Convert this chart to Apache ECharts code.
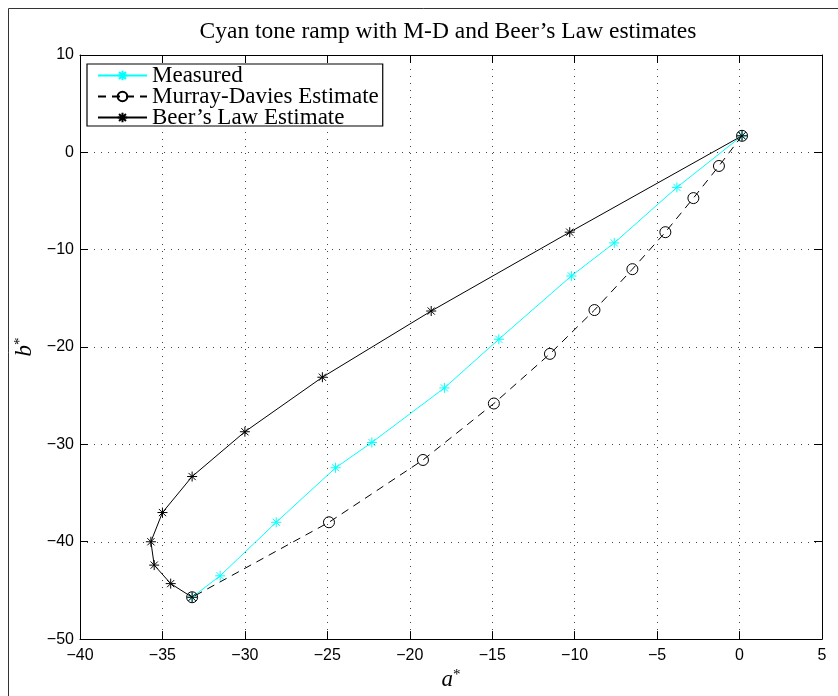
<!DOCTYPE html>
<html>
<head>
<meta charset="utf-8">
<script src="https://cdn.jsdelivr.net/npm/echarts@6/dist/echarts.min.js"></script>
<style>
  html, body { margin: 0; padding: 0; background: #fff; }
  #chart { width: 838px; height: 696px; }
</style>
</head>
<body>
<div id="chart"></div>
<script>
// CIELAB a*/b* coordinates along the cyan tone ramp (paper white -> solid cyan)
const aMeasured = [0.15, -3.8, -7.6, -10.2, -14.6, -17.9, -22.3, -24.5, -28.1, -31.5, -33.2];
const bMeasured = [1.7, -3.6, -9.3, -12.7, -19.2, -24.2, -29.8, -32.4, -38.0, -43.5, -45.7];

const aMurrayDavies = [0.15, -1.25, -2.8, -4.5, -6.5, -8.8, -11.5, -14.9, -19.2, -24.9, -33.2];
const bMurrayDavies = [1.7, -1.4, -4.7, -8.2, -12.0, -16.2, -20.7, -25.8, -31.6, -38.0, -45.7];

const aBeer = [0.15, -10.3, -18.7, -25.3, -30.0, -33.2, -35.0, -35.7, -35.5, -34.5, -33.2];
const bBeer = [1.7, -8.2, -16.3, -23.1, -28.7, -33.3, -37.0, -40.0, -42.4, -44.3, -45.7];

const seriesNames = ['Measured', 'Murray-Davies Estimate', "Beer\u2019s Law Estimate"];
const xTicks = { min: -40, max: 5, interval: 5 };
const yTicks = { min: -50, max: 10, interval: 10 };

const zip = (xs, ys) => xs.map((x, i) => [x, ys[i]]);

const ASTERISK = 'path://M0,-1L0,1M-1,0L1,0M-0.72,-0.72L0.72,0.72M-0.72,0.72L0.72,-0.72';
const serif = '"Liberation Serif", "DejaVu Serif", serif';
const sans = '"Liberation Sans", Arial, sans-serif';
const minus = v => String(v).replace('-', '\u2212');

const chart = echarts.init(document.getElementById('chart'), null, { renderer: 'canvas' });

const tickCommon = {
  axisLine: { show: true, onZero: false, lineStyle: { color: '#000', width: 1 } },
  axisTick: { show: true, inside: true, length: 8, lineStyle: { color: '#000', width: 1 } },
  splitLine: { show: false }
};

chart.setOption({
  animation: false,
  backgroundColor: '#fff',
  grid: { left: 80, top: 55, right: 16, bottom: 56, containLabel: false },
  graphic: [
    {
      type: 'rect',
      shape: { x: 8.5, y: 8.5, width: 900, height: 900 },
      style: { fill: 'none', stroke: '#333', lineWidth: 1 },
      silent: true, z: -10
    },
    {
      type: 'text',
      x: 448, y: 32,
      style: {
        text: 'Cyan tone ramp with M-D and Beer\u2019s Law estimates',
        font: '23.5px ' + serif,
        fill: '#000',
        align: 'center',
        verticalAlign: 'middle'
      }
    }
  ],
  legend: {
    orient: 'vertical',
    left: 87, top: 64,
    padding: [0, 4, -3, 10],
    itemWidth: 49,
    itemHeight: 12,
    itemGap: -2,
    backgroundColor: '#fff',
    borderColor: '#000',
    borderWidth: 1.2,
    borderRadius: 0,
    textStyle: { fontFamily: serif, fontSize: 23, color: '#000' },
    data: seriesNames
  },
  xAxis: [
    Object.assign({
      type: 'value', position: 'bottom',
      min: xTicks.min, max: xTicks.max, interval: xTicks.interval,
      axisLabel: { show: true, margin: 8, color: '#000', fontFamily: sans, fontSize: 16, formatter: minus },
      name: '{i|a}{s|*}',
      nameLocation: 'middle',
      nameGap: 28,
      nameTextStyle: {
        rich: {
          i: { fontFamily: serif, fontStyle: 'italic', fontSize: 23, color: '#000' },
          s: { fontFamily: serif, fontSize: 15, color: '#000', verticalAlign: 'top' }
        }
      }
    }, tickCommon, {
      splitLine: { show: true, lineStyle: { color: '#444', width: 1, type: [1, 6] } }
    }),
    Object.assign({
      type: 'value', position: 'top',
      min: xTicks.min, max: xTicks.max, interval: xTicks.interval,
      axisLabel: { show: false }
    }, tickCommon)
  ],
  yAxis: [
    Object.assign({
      type: 'value', position: 'left',
      min: yTicks.min, max: yTicks.max, interval: yTicks.interval,
      axisLabel: { show: true, margin: 6, color: '#000', fontFamily: sans, fontSize: 16, formatter: minus },
      name: '{i|b}{s|*}',
      nameLocation: 'middle',
      nameRotate: 90,
      nameGap: 40,
      nameTextStyle: {
        rich: {
          i: { fontFamily: serif, fontStyle: 'italic', fontSize: 23, color: '#000' },
          s: { fontFamily: serif, fontSize: 15, color: '#000', verticalAlign: 'top' }
        }
      }
    }, tickCommon, {
      splitLine: { show: true, lineStyle: { color: '#444', width: 1, type: [1, 6] } }
    }),
    Object.assign({
      type: 'value', position: 'right',
      min: yTicks.min, max: yTicks.max, interval: yTicks.interval,
      axisLabel: { show: false }
    }, tickCommon)
  ],
  series: [
    {
      name: seriesNames[0],
      type: 'line',
      data: zip(aMeasured, bMeasured),
      symbol: ASTERISK,
      symbolSize: 10,
      lineStyle: { color: '#00ffff', width: 1 },
      itemStyle: { color: '#00ffff', borderColor: '#00ffff', borderWidth: 1 },
      z: 3
    },
    {
      name: seriesNames[1],
      type: 'line',
      data: zip(aMurrayDavies, bMurrayDavies),
      symbol: 'circle',
      symbolSize: 11,
      lineStyle: { color: '#000', width: 1, type: [8, 6] },
      itemStyle: { color: 'rgba(0,0,0,0)', borderColor: '#000', borderWidth: 1 },
      z: 4
    },
    {
      name: seriesNames[2],
      type: 'line',
      data: zip(aBeer, bBeer),
      symbol: ASTERISK,
      symbolSize: 10,
      lineStyle: { color: '#000', width: 1 },
      itemStyle: { color: '#000', borderColor: '#000', borderWidth: 1 },
      z: 5
    }
  ]
});
</script>
</body>
</html>
